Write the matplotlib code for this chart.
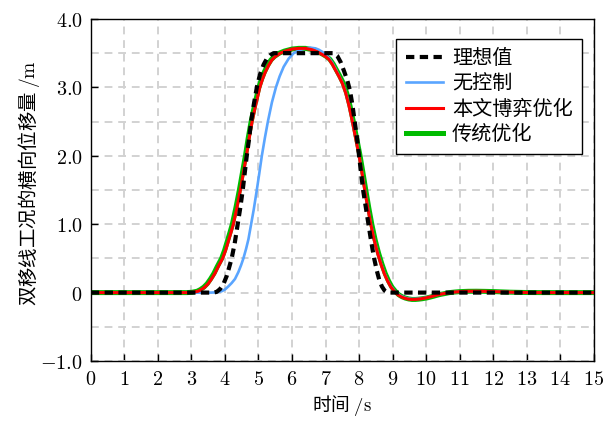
import matplotlib
matplotlib.use("Agg")
import matplotlib.pyplot as plt
from matplotlib.ticker import MultipleLocator, FixedLocator, FixedFormatter

plt.rcParams['font.family'] = ['Noto Sans CJK SC', 'DejaVu Sans']
plt.rcParams['mathtext.fontset'] = 'cm'
plt.rcParams['axes.unicode_minus'] = True

# === data ===
# ideal path (black dashed)
t_ideal = [0, 3.65, 3.75, 3.85, 3.95, 4.05, 4.12, 4.2, 4.29, 4.38, 4.46, 4.53, 4.59,
           4.65, 4.72, 4.78, 4.86, 4.95, 5.04, 5.15, 5.25, 5.35, 5.45, 7.25, 7.35,
           7.45, 7.55, 7.65, 7.73, 7.8, 7.87, 7.94, 8.0, 8.06, 8.12, 8.2, 8.28, 8.36,
           8.45, 8.53, 8.6, 8.68, 8.76, 8.85, 15]
y_ideal = [0, 0, 0.01, 0.05, 0.12, 0.24, 0.36, 0.5, 0.72, 1.0, 1.25, 1.5, 1.75,
           2.0, 2.25, 2.5, 2.75, 3.0, 3.18, 3.33, 3.42, 3.47, 3.5, 3.5, 3.46,
           3.37, 3.24, 3.1, 2.95, 2.75, 2.5, 2.25, 2.0, 1.75, 1.5, 1.25, 1.0, 0.75,
           0.5, 0.32, 0.19, 0.09, 0.03, 0, 0]

# no control (blue)
t_noctrl = [0, 3.6, 3.75, 3.9, 4.0, 4.1, 4.2, 4.3, 4.4, 4.48, 4.55, 4.63, 4.7, 4.78,
            4.86, 4.95, 5.02, 5.1, 5.19, 5.28, 5.4, 5.52, 5.63, 5.75, 5.9, 6.05, 6.2,
            6.4, 6.55, 6.7, 6.8, 6.9, 7.0, 7.1, 7.2, 7.3, 7.4, 7.5,
            7.6, 7.7, 7.8, 7.9, 8.0, 8.08, 8.17, 8.26, 8.35, 8.45, 8.55, 8.65, 8.75,
            8.85, 8.95, 9.05, 9.15, 9.25, 9.35, 9.45, 9.55, 9.65, 9.75, 9.85, 10.0,
            10.1, 10.2, 10.3, 10.4, 10.55, 10.7, 10.85, 11.0, 11.25, 11.5, 11.75,
            12.0, 12.5, 13.0, 13.5, 15]
y_noctrl = [0, 0, 0.005, 0.02, 0.045, 0.09, 0.14, 0.2, 0.3, 0.4, 0.5, 0.64, 0.78, 1.0,
            1.22, 1.5, 1.73, 2.0, 2.26, 2.5, 2.78, 3.0, 3.16, 3.3, 3.42, 3.5, 3.54,
            3.57, 3.58, 3.57, 3.55, 3.52, 3.48, 3.43, 3.36, 3.27, 3.17, 3.07,
            2.93, 2.74, 2.51, 2.26, 2.01, 1.78, 1.51, 1.25, 1.01, 0.78, 0.59, 0.43, 0.29,
            0.18, 0.09, 0.03, -0.02, -0.05, -0.07, -0.085, -0.092, -0.093, -0.09,
            -0.085, -0.073, -0.062, -0.05, -0.037, -0.025, -0.012, 0.0, 0.008, 0.013,
            0.018, 0.02, 0.018, 0.015, 0.006, 0.001, 0, 0]

# game-theory optimisation (red)
t_game = [0, 2.9, 3.05, 3.2, 3.3, 3.4, 3.5, 3.6, 3.7, 3.8,
          3.93, 4.02, 4.1, 4.18, 4.25, 4.36, 4.46, 4.55, 4.64, 4.72,
          4.81, 4.92, 5.04, 5.12, 5.2, 5.3, 5.4, 5.5, 5.65, 5.8,
          6.0, 6.2, 6.4, 6.6, 6.75, 6.9, 7.0, 7.1, 7.2, 7.3,
          7.4, 7.5, 7.6, 7.7, 7.8, 7.9, 8.0, 8.08, 8.17, 8.26,
          8.35, 8.45, 8.55, 8.65, 8.75, 8.85, 8.95, 9.05, 9.15, 9.25,
          9.35, 9.45, 9.55, 9.65, 9.75, 9.85, 10.0, 10.1, 10.2, 10.3,
          10.4, 10.55, 10.7, 10.85, 11.0, 11.25, 11.5, 11.75, 12.0, 12.5,
          13.0, 13.5, 15]
y_game = [0, 0, 0.005, 0.02, 0.045, 0.08, 0.13, 0.2, 0.28, 0.38,
          0.5, 0.62, 0.75, 0.88, 1.0, 1.25, 1.5, 1.75, 2.0, 2.25,
          2.5, 2.75, 3.0, 3.12, 3.22, 3.32, 3.4, 3.45, 3.5, 3.53,
          3.56, 3.57, 3.57, 3.55, 3.52, 3.48, 3.45, 3.41, 3.34, 3.25,
          3.16, 3.06, 2.92, 2.73, 2.5, 2.25, 2.0, 1.77, 1.5, 1.24,
          1.0, 0.77, 0.58, 0.42, 0.28, 0.17, 0.08, 0.02, -0.03, -0.06,
          -0.08, -0.093, -0.1, -0.1, -0.096, -0.09, -0.077, -0.065, -0.052, -0.038,
          -0.026, -0.012, 0.0, 0.008, 0.014, 0.019, 0.02, 0.018, 0.015, 0.006,
          0.001, 0, 0]

# traditional optimisation (green)
t_trad = [0, 2.87, 3.02, 3.17, 3.27, 3.37, 3.47, 3.57, 3.67, 3.77,
          3.9, 3.99, 4.07, 4.15, 4.22, 4.33, 4.43, 4.52, 4.61, 4.69,
          4.78, 4.89, 5.01, 5.09, 5.17, 5.27, 5.37, 5.47, 5.62, 5.77,
          6.0, 6.2, 6.4, 6.62, 6.78, 6.93, 7.03, 7.13, 7.23, 7.33,
          7.43, 7.53, 7.63, 7.73, 7.83, 7.93, 8.03, 8.11, 8.2, 8.29,
          8.38, 8.48, 8.58, 8.68, 8.78, 8.88, 8.98, 9.08, 9.18, 9.28,
          9.38, 9.48, 9.58, 9.68, 9.78, 9.88, 10.03, 10.13, 10.23, 10.33,
          10.43, 10.58, 10.7, 10.85, 11.0, 11.25, 11.5, 11.75, 12.0, 12.5,
          13.0, 13.5, 15]
y_trad = [0, 0, 0.005, 0.02, 0.045, 0.08, 0.13, 0.2, 0.28, 0.38,
          0.5, 0.62, 0.75, 0.88, 1.0, 1.25, 1.5, 1.75, 2.0, 2.25,
          2.5, 2.75, 3.0, 3.12, 3.22, 3.32, 3.4, 3.45, 3.5, 3.53,
          3.56, 3.57, 3.57, 3.55, 3.52, 3.48, 3.45, 3.41, 3.34, 3.25,
          3.16, 3.06, 2.92, 2.73, 2.5, 2.25, 2.0, 1.77, 1.5, 1.24,
          1.0, 0.77, 0.58, 0.42, 0.28, 0.17, 0.08, 0.02, -0.03, -0.06,
          -0.08, -0.093, -0.1, -0.1, -0.096, -0.09, -0.077, -0.065, -0.052, -0.038,
          -0.026, -0.012, 0.0, 0.008, 0.014, 0.019, 0.02, 0.018, 0.015, 0.006,
          0.001, 0, 0]

labels = ["理想值", "无控制", "本文博弈优化", "传统优化"]
ytick_vals = [-1, 0, 1, 2, 3, 4]
ytick_txt = [r"$-1.0$", r"$0$", r"$1.0$", r"$2.0$", r"$3.0$", r"$4.0$"]

fig = plt.figure(figsize=(6.14, 4.21), dpi=100)
ax = fig.add_axes([0.148, 0.1425, 0.819, 0.8125])

ax.plot(t_trad, y_trad, color="#00bb00", lw=3.6, zorder=2, label=labels[3])
ax.plot(t_noctrl, y_noctrl, color="#5aa5ff", lw=1.9, zorder=3, label=labels[1])
ax.plot(t_game, y_game, color="#ff0000", lw=2.2, zorder=4, label=labels[2])
ax.plot(t_ideal, y_ideal, color="black", lw=3.0, dashes=(2.0, 1.3), zorder=5,
        label=labels[0])

ax.set_xlim(0, 15)
ax.set_ylim(-1, 4)
ax.xaxis.set_major_locator(MultipleLocator(1))
ax.xaxis.set_major_formatter(plt.FuncFormatter(lambda v, p: r"$%d$" % v))
ax.yaxis.set_major_locator(FixedLocator(ytick_vals))
ax.yaxis.set_major_formatter(FixedFormatter(ytick_txt))
ax.yaxis.set_minor_locator(MultipleLocator(0.5))
ax.tick_params(which="major", direction="in", length=5, width=1,
               labelsize=14.5, colors="black", pad=6)
ax.tick_params(which="minor", length=0)

ax.grid(True, which="major", axis="x", color="#d2d2d2", ls=(0, (4, 3)), lw=1.4)
ax.grid(True, which="both", axis="y", color="#d2d2d2", ls=(0, (4, 3)), lw=1.4)
ax.set_axisbelow(True)
for s in ax.spines.values():
    s.set_linewidth(1.0)
    s.set_zorder(6)

ax.set_xlabel(r"时间 $/\mathrm{s}$", fontsize=13.5, labelpad=2)
ax.set_ylabel(r"双移线工况的横向位移量 $/\mathrm{m}$", fontsize=14)
ax.yaxis.set_label_coords(-0.098, 0.52)

h, l = ax.get_legend_handles_labels()
order = [3, 1, 2, 0]
leg = ax.legend([h[i] for i in order], [l[i] for i in order],
                loc="upper right", bbox_to_anchor=(0.976, 0.9415), borderaxespad=0,
                fontsize=14.5, frameon=True, fancybox=False, framealpha=1,
                edgecolor="black", handlelength=1.85, labelspacing=0.22,
                handletextpad=0.45, borderpad=0.45)
leg.get_frame().set_linewidth(1.0)
leg.set_zorder(10)

fig.savefig("out.png", dpi=100)
